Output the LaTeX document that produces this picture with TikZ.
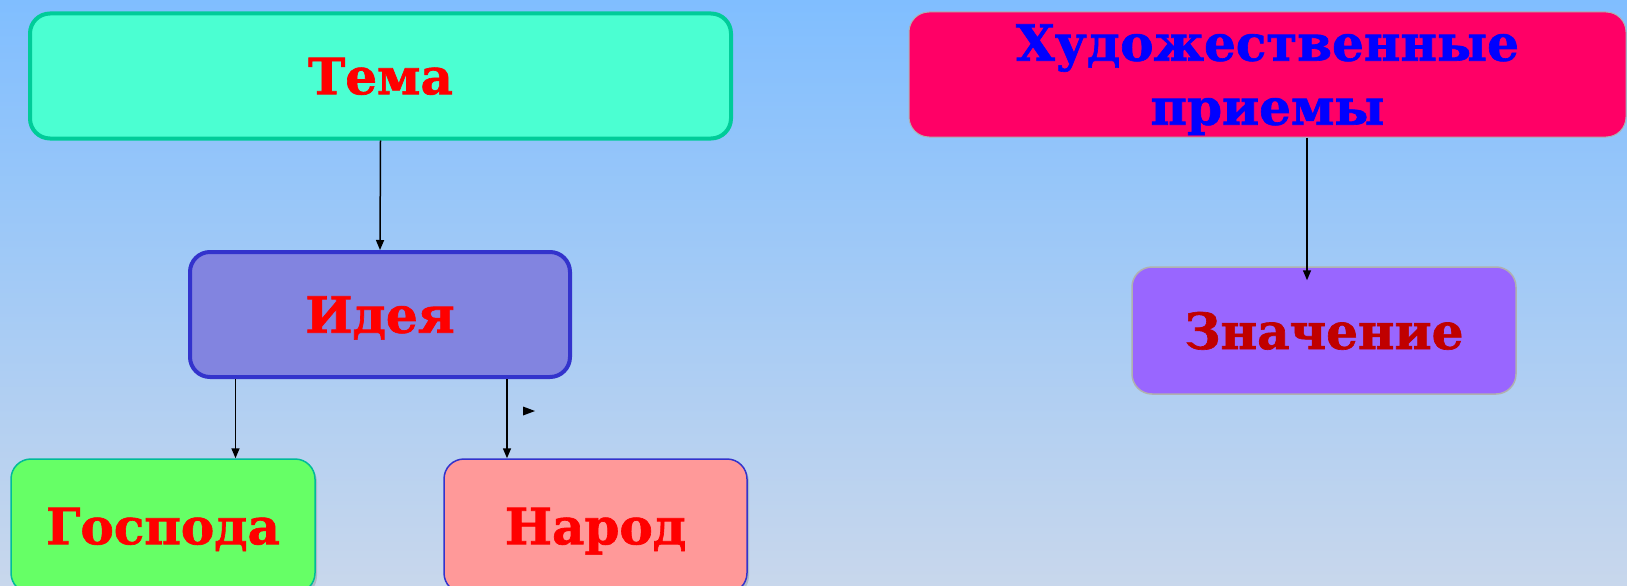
\documentclass[tikz,border=0pt]{standalone}
\usepackage{fontspec}
\setmainfont{DejaVu Serif}[BoldFeatures={FakeBold=1.3}]
\usetikzlibrary{arrows.meta,shadows}
\definecolor{bgtop}{RGB}{128,190,255}
\definecolor{bgbot}{RGB}{200,215,236}
\definecolor{temafill}{RGB}{75,255,210}
\definecolor{temaline}{RGB}{0,204,153}
\definecolor{hudfill}{RGB}{255,0,102}
\definecolor{ideafill}{RGB}{130,132,224}
\definecolor{idealine}{RGB}{51,51,204}
\definecolor{gospfill}{RGB}{102,255,102}
\definecolor{gospline}{RGB}{0,187,153}
\definecolor{narodfill}{RGB}{255,153,153}
\definecolor{znfill}{RGB}{153,102,255}
\definecolor{graybord}{RGB}{176,176,176}
\definecolor{darkred}{RGB}{192,0,0}
\tikzset{
  box/.style={rounded corners=20pt, inner sep=0pt, align=center, text depth=0pt,
    font=\fontsize{50}{64}\selectfont\bfseries},
  arr/.style={draw=black, line width=1.5pt, -{Triangle[length=10pt,width=8pt]}}
}
\begin{document}
\begin{tikzpicture}[x=1pt,y=-1pt]
\shade[top color=bgtop, bottom color=bgbot] (0,0) rectangle (1627,586);
\useasboundingbox (0,0) rectangle (1627,586);
\clip (0,0) rectangle (1627,586);
\node[box, fill=temafill, draw=temaline, line width=4pt, minimum width=701pt, minimum height=125pt, text=red] (tema) at (380.5,76) {Тема};
\node[box, fill=hudfill, draw=graybord, line width=1pt, minimum width=717pt, minimum height=125pt, text=blue] (hud) at (1267.5,74.5) {Художественные\\приемы};
\node[box, fill=ideafill, draw=idealine, line width=4pt, minimum width=380pt, minimum height=125pt, text=red] (idea) at (380,314.5) {Идея};
\node[box, fill=gospfill, draw=gospline, line width=1.5pt, minimum width=304pt, minimum height=134pt, text=red, drop shadow={opacity=0.35, shadow xshift=2pt, shadow yshift=-3pt}] (gosp) at (163,526) {Господа};
\node[box, fill=narodfill, draw=idealine, line width=1.5pt, minimum width=303pt, minimum height=134pt, text=red, drop shadow={opacity=0.35, shadow xshift=2pt, shadow yshift=-3pt}] (narod) at (595.5,526) {Народ};
\node[box, fill=znfill, draw=graybord, line width=1.5pt, minimum width=384pt, minimum height=127pt, text=darkred] (zn) at (1324,330.5) {Значение};
\draw[arr] (tema.south) -- (idea.north);
\draw[arr] ([xshift=-144.5pt]idea.south) -- ([xshift=-144.5pt]idea.south |- gosp.north);
\draw[arr] ([xshift=127pt]idea.south) -- ([xshift=127pt]idea.south |- narod.north);
\draw[arr] ([xshift=39.5pt]hud.south) -- ([xshift=39.5pt,yshift=-14pt]hud.south |- zn.north);
\fill[black] (523,406.5) -- (535,411) -- (523,415.5) -- cycle;
\end{tikzpicture}
\end{document}
